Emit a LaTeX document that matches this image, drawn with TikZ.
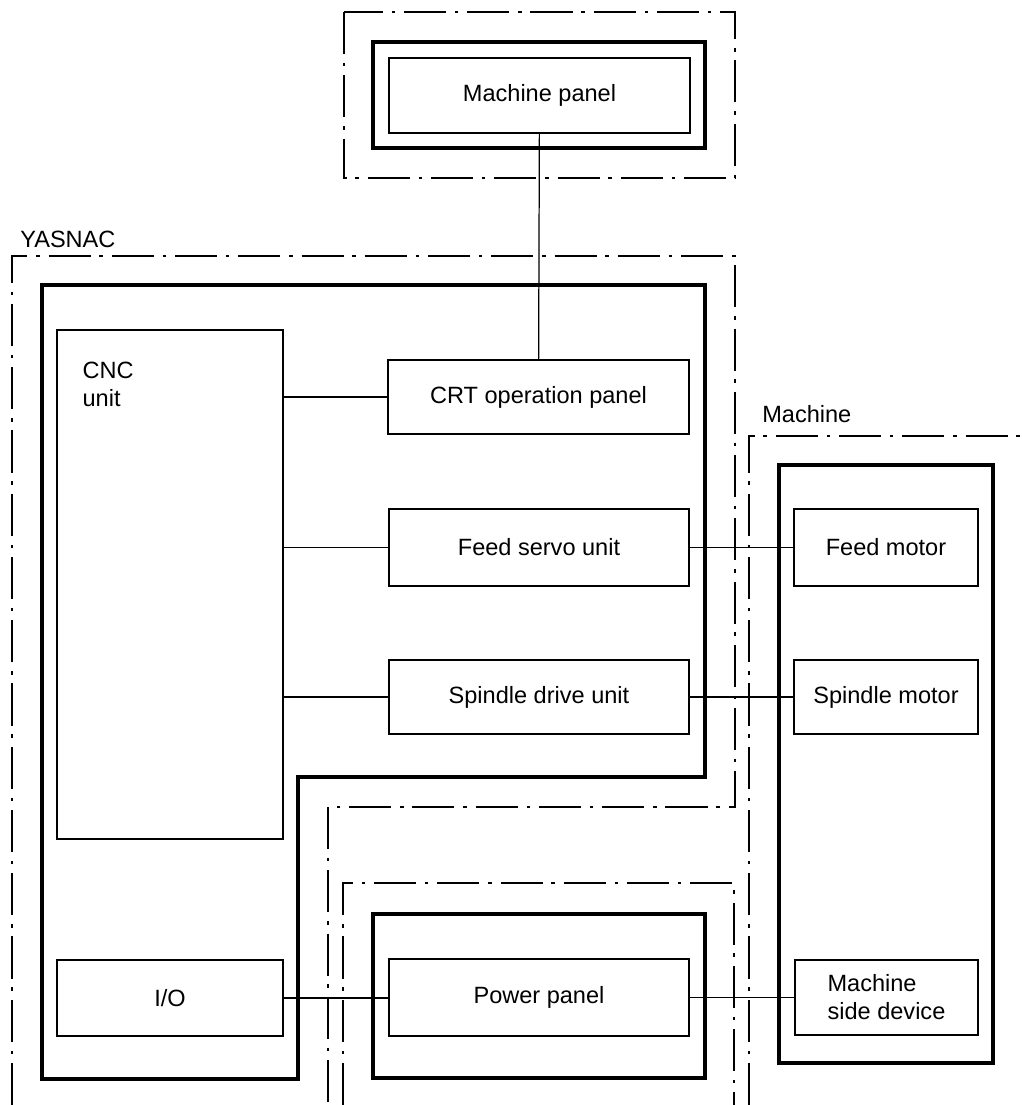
\documentclass[tikz,border=0pt]{standalone}
\usepackage{fontspec}
\setmainfont{Liberation Sans}
\begin{document}
\begin{tikzpicture}[x=0.02cm, y=-0.02cm,
  unit/.style={draw, line width=0.85pt, inner sep=0pt, minimum height=1.52cm},
  frame/.style={line width=2.4pt},
  zone/.style={line width=0.8pt, dash pattern=on 24pt off 5pt on 2pt off 5pt},
  link/.style={line width=0.7pt},
  font=\fontsize{13.4}{16}\selectfont]
\useasboundingbox (0,0) rectangle (1021,1105);
\draw[zone] (344,12) rectangle (735,178);
\draw[frame] (373,42) rectangle (705,148);
\node[unit, minimum width=6.02cm, minimum height=1.5cm] (mpanel) at (539.5,95.5) {Machine panel};
\node[anchor=base west, inner sep=0pt] (yasnac) at (20,247) {YASNAC};
\draw[zone] (12,1105) -- (12,256) -- (735,256) -- (735,807) -- (328,807) -- (328,1105);
\draw[frame] (42,285) -- (705,285) -- (705,777) -- (298,777) -- (298,1079) -- (42,1079) -- cycle;
\node[unit, minimum width=4.52cm, minimum height=10.18cm] (cnc) at (170,584.5) {};
\node[anchor=north west, align=left, inner sep=0pt] (cnctext) at ([xshift=0.52cm, yshift=-0.64cm]cnc.north west) {CNC\\unit};
\node[unit, minimum width=6.02cm, minimum height=1.48cm] (crt) at (538.5,397) {CRT operation panel};
\node[unit, minimum width=6cm, minimum height=1.54cm] (servo) at (539,547.5) {Feed servo unit};
\node[unit, minimum width=6cm, minimum height=1.48cm] (drive) at (539,697) {Spindle drive unit};
\node[unit, minimum width=4.52cm] (io) at (170,998) {I/O};
\draw[zone] (343,1105) -- (343,883) -- (734,883) -- (734,1105);
\draw[frame] (373,914) rectangle (705,1078);
\node[unit, minimum width=6cm, minimum height=1.54cm] (power) at (539,997.5) {Power panel};
\node[anchor=base west, inner sep=0pt] (machine) at (762,422) {Machine};
\draw[zone] (749,1105) -- (749,436) -- (1021,436);
\draw[frame] (779,465) rectangle (993,1063);
\node[unit, minimum width=3.68cm, minimum height=1.54cm] (fmotor) at (886,547.5) {Feed motor};
\node[unit, minimum width=3.68cm, minimum height=1.48cm] (smotor) at (886,697) {Spindle motor};
\node[unit, minimum width=3.66cm, minimum height=1.5cm, align=left] (device) at (886.5,997.5) {Machine\\side device};
\draw[link] (mpanel) -- (crt);
\draw[link] (crt.west -| cnc.east) -- (crt.west);
\draw[link] (servo.west -| cnc.east) -- (servo.west);
\draw[link] (drive.west -| cnc.east) -- (drive.west);
\draw[link] (servo) -- (fmotor);
\draw[link, line width=1.1pt] (drive) -- (smotor);
\draw[link] (io.east) -- (io.east -| power.west);
\draw[link] (power) -- (device);
\end{tikzpicture}
\end{document}
